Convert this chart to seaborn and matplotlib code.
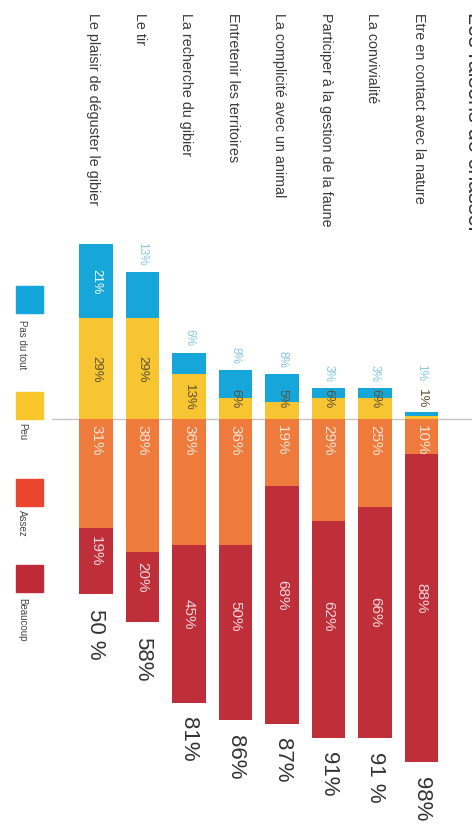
import matplotlib
matplotlib.use("Agg")
import matplotlib.pyplot as plt
import seaborn as sns
import pandas as pd
from matplotlib.patches import Rectangle

# ---- data (original chart order, top to bottom) ----
categories = ["Etre en contact avec la nature", "La convivialité",
              "Participer à la gestion de la faune", "La complicité avec un animal",
              "Entretenir les territoires", "La recherche du gibier",
              "Le tir", "Le plaisir de déguster le gibier"]
pas_du_tout = [1, 3, 3, 8, 8, 6, 13, 21]
peu = [1, 6, 6, 5, 6, 13, 29, 29]
assez = [10, 25, 29, 19, 36, 36, 38, 31]
beaucoup = [88, 66, 62, 68, 50, 45, 20, 19]
total_labels = ["98%", "91 %", "91%", "87%", "86%", "81%", "58%", "50 %"]
legend_labels = ["Pas du tout", "Peu", "Assez", "Beaucoup"]
title = "Les raisons de chasser"

C_BLUE = "#16A6DA"
C_YEL = "#F7C531"
C_ORA = "#EE7B3C"
C_RED = "#BE2F3A"
C_LEG = ["#14A6DB", "#F9C62C", "#E9452F", "#BE2B36"]

sns.set_theme(style="white")
plt.rcParams["font.family"] = ["Liberation Sans", "DejaVu Sans"]

df = pd.DataFrame({"cat": categories, "pas": pas_du_tout, "peu": peu,
                   "assez": assez, "beau": beaucoup})
df["pos_total"] = df["assez"] + df["beau"]
df["neg_total"] = -(df["pas"] + df["peu"])
df["neg_peu"] = -df["peu"]
order = categories[::-1]

W, H = 472, 837
fig = plt.figure(figsize=(W / 100, H / 100), dpi=100)
ax = fig.add_axes([0, 0, 1, 1])

bw = 0.71
common = dict(data=df, x="cat", order=order, width=bw, saturation=1,
              linewidth=0, ax=ax, errorbar=None)
sns.barplot(y="pos_total", color=C_RED, **common)
sns.barplot(y="assez", color=C_ORA, **common)
sns.barplot(y="neg_total", color=C_BLUE, **common)
sns.barplot(y="neg_peu", color=C_YEL, **common)

# pixel mapping: x_px = 96 + 46.5*i ; y_px = 420 + 3.5*v
X0, DX = 96, 46.5
Y0, DY = 420, 3.5
ax.set_xlim((0 - X0) / DX, (W - X0) / DX)
ax.set_ylim((H - Y0) / DY, (0 - Y0) / DY)
ax.set_axis_off()

def px2y(py):
    return (py - Y0) / DY

# zero line
ax.plot([(52 - X0) / DX, (W - X0) / DX], [0, 0], color="#c4c4c4", lw=1, zorder=0)

for i, cat in enumerate(order):
    r = df[df["cat"] == cat].iloc[0]
    j = categories.index(cat)
    # category label
    ax.text(i - 0.06, px2y(13), cat, rotation=-90, ha="center", va="top",
            fontsize=10.3, color="#3a3a3a")
    # pas du tout
    top = -(r["pas"] + r["peu"])
    if r["pas"] >= 15:
        ax.text(i, top + r["pas"] / 2, f"{r['pas']}%", rotation=-90, ha="center",
                va="center", fontsize=9, color="white")
    else:
        ax.text(i, min(top - 2, -11), f"{r['pas']}%", rotation=-90, ha="center",
                va="bottom", fontsize=8.5, color="#86c8e5")
    # peu
    ax.text(i, min(-r["peu"] / 2, -6), f"{r['peu']}%", rotation=-90, ha="center",
            va="center", fontsize=9.5, color="#5e5236")
    # assez
    ax.text(i, 1.3, f"{r['assez']}%", rotation=-90, ha="center", va="top",
            fontsize=11, color="#fbe3d6")
    # beaucoup
    ax.text(i, min((r["assez"] + r["pos_total"]) / 2 - 3, 56), f"{r['beau']}%",
            rotation=-90, ha="center", va="center", fontsize=11, color="#f6d6d8")
    # total
    ax.text(i, r["pos_total"] + 4, total_labels[j], rotation=-90, ha="center",
            va="top", fontsize=16, color="#333333")

# title (partially cut at right edge, as in the reference)
ax.text((463 - X0) / DX, px2y(12), title, rotation=-90, ha="left", va="top",
        fontsize=15.5, color="#333333", clip_on=False)

# legend (manual, rotated)
sq_y = [287, 393, 480, 566]
lab_y = [320, 423, 510, 598]
for k in range(4):
    fig.patches.append(Rectangle((16 / W, 1 - (sq_y[k] + 27) / H), 27 / W, 27 / H,
                                 transform=fig.transFigure, color=C_LEG[k]))
    fig.text(22 / W, 1 - lab_y[k] / H, legend_labels[k], rotation=-90,
             ha="center", va="top", fontsize=7, color="#444444")

fig.savefig("out.png", dpi=100)
